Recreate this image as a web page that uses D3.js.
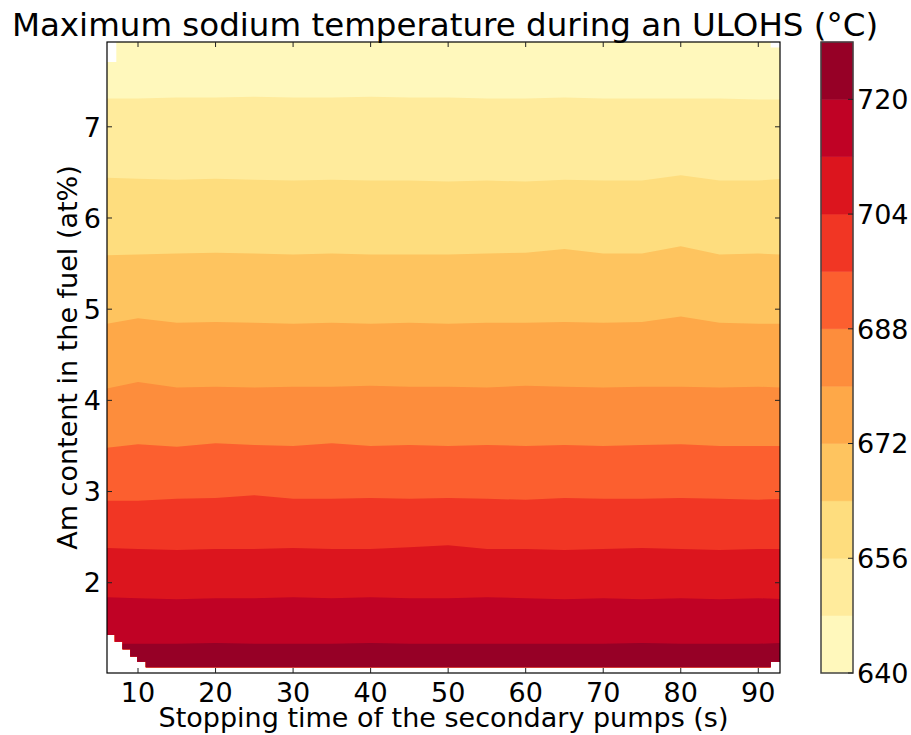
<!DOCTYPE html>
<html><head><meta charset="utf-8">
<script src="https://cdn.jsdelivr.net/npm/d3@7"></script>
<style>
body{margin:0;background:#fff}
svg{display:block}
text{font-family:"DejaVu Sans",sans-serif;fill:#000}
</style>
</head><body>
<svg id="chart" width="911" height="735"></svg>
<script>
// ---------- data ----------
const titleText = "Maximum sodium temperature during an ULOHS (°C)";
const xLabel = "Stopping time of the secondary pumps (s)";
const yLabel = "Am content in the fuel (at%)";

const levels = [640, 648, 656, 664, 672, 680, 688, 696, 704, 712, 720, 728];
const colorbarTicks = [640, 656, 672, 688, 704, 720];
const xTicks = [10, 20, 30, 40, 50, 60, 70, 80, 90];
const yTicks = [2, 3, 4, 5, 6, 7];
const xDomain = [6, 92.8];
const yDomain = [1.01, 7.93];

// stopping time samples (s) at which contour positions were read
const sampleX = [6, 10, 15, 20, 25, 30, 35, 40, 45, 50, 55, 60, 65, 70, 75, 80, 85, 90, 93];
// Am content (at%) where Tmax crosses each level
const c648 = [7.31,7.31,7.32,7.32,7.33,7.32,7.32,7.33,7.32,7.32,7.31,7.31,7.32,7.31,7.31,7.31,7.31,7.30,7.30];
const c656 = [6.44,6.43,6.42,6.43,6.42,6.41,6.42,6.41,6.41,6.40,6.41,6.40,6.42,6.41,6.41,6.47,6.41,6.41,6.43];
const c664 = [5.59,5.60,5.61,5.62,5.61,5.60,5.61,5.60,5.60,5.60,5.61,5.62,5.66,5.61,5.61,5.69,5.60,5.61,5.60];
const c672 = [4.84,4.90,4.85,4.86,4.85,4.84,4.85,4.84,4.85,4.84,4.85,4.85,4.86,4.85,4.86,4.92,4.85,4.84,4.84];
const c680 = [4.13,4.20,4.14,4.15,4.14,4.15,4.15,4.16,4.15,4.15,4.14,4.16,4.15,4.14,4.15,4.15,4.14,4.15,4.14];
const c688 = [3.48,3.52,3.49,3.53,3.51,3.50,3.53,3.50,3.51,3.50,3.51,3.50,3.51,3.50,3.51,3.52,3.50,3.50,3.50];
const c696 = [2.90,2.90,2.92,2.93,2.96,2.92,2.92,2.93,2.92,2.93,2.92,2.91,2.93,2.92,2.92,2.93,2.92,2.91,2.92];
const c704 = [2.38,2.37,2.36,2.37,2.37,2.38,2.37,2.37,2.39,2.41,2.37,2.37,2.36,2.37,2.38,2.37,2.36,2.37,2.37];
const c712 = [1.84,1.83,1.82,1.83,1.83,1.84,1.83,1.84,1.83,1.83,1.84,1.83,1.82,1.83,1.82,1.83,1.82,1.83,1.82];
const c720 = [1.33,1.33,1.33,1.34,1.33,1.33,1.33,1.34,1.33,1.33,1.33,1.33,1.33,1.33,1.34,1.33,1.33,1.33,1.34];
const contourLines = [c648, c656, c664, c672, c680, c688, c696, c704, c712, c720];

// extent of the computed grid (missing cells are blank)
const gridEdgeX      = [6,    7,    7.2,  8,    9,    9.9,  11,   91.6, 92.8];
const gridEdgeTop    = [7.71, 7.71, 7.93, 7.93, 7.93, 7.93, 7.93, 7.87, 7.87];
const gridEdgeBottom = [1.426,1.353,1.353,1.27, 1.19, 1.134,1.072,1.134,1.134];

const ylOrRd = ["#ffffcc","#ffeda0","#fed976","#feb24c","#fd8d3c","#fc4e2a","#e31a1c","#bd0026","#800026"];

// ---------- layout ----------
const svg = d3.select("#chart");
const plot = {left: 107, right: 780, top: 42, bottom: 673};
const cbar = {left: 821, right: 853, top: 42, bottom: 673};
const fs = 27;

const x = d3.scaleLinear().domain(xDomain).range([plot.left, plot.right]);
const y = d3.scaleLinear().domain(yDomain).range([plot.bottom, plot.top]);
const cmap = d3.scaleLinear().domain(ylOrRd.map((_, i) => i / (ylOrRd.length - 1))).range(ylOrRd).interpolate(d3.interpolateRgb);
const nBands = levels.length - 1;
const bandColor = i => cmap((i + 0.5) / nBands);

// clip to grid extent
const defs = svg.append("defs");
const clipArea = d3.area().curve(d3.curveStepAfter)
  .x((d, i) => x(gridEdgeX[i])).y0((d, i) => y(gridEdgeBottom[i])).y1((d, i) => y(gridEdgeTop[i]));
defs.append("clipPath").attr("id", "gridclip").append("path").attr("d", clipArea(gridEdgeX));

const g = svg.append("g").attr("clip-path", "url(#gridclip)");
for (let i = 0; i < nBands; i++) {
  const upper = i === 0 ? sampleX.map(() => yDomain[1]) : contourLines[i - 1];
  const area = d3.area()
    .x((d, k) => x(sampleX[k]))
    .y0(() => y(yDomain[0]))
    .y1((d, k) => y(upper[k]));
  g.append("path").attr("d", area(sampleX)).attr("fill", bandColor(i));
}

// frame
svg.append("rect").attr("x", plot.left).attr("y", plot.top)
  .attr("width", plot.right - plot.left).attr("height", plot.bottom - plot.top)
  .attr("fill", "none").attr("stroke", "#000").attr("stroke-width", 1.2);

// ticks (inward on all sides)
const tl = 5;
const tk = svg.append("g").attr("stroke", "#222").attr("stroke-width", 1);
xTicks.forEach(v => {
  tk.append("line").attr("x1", x(v)).attr("x2", x(v)).attr("y1", plot.bottom).attr("y2", plot.bottom - tl);
  tk.append("line").attr("x1", x(v)).attr("x2", x(v)).attr("y1", plot.top).attr("y2", plot.top + tl);
  svg.append("text").attr("x", x(v)).attr("y", plot.bottom + 29).attr("text-anchor", "middle")
    .attr("font-size", fs).text(v);
});
yTicks.forEach(v => {
  tk.append("line").attr("x1", plot.left).attr("x2", plot.left + tl).attr("y1", y(v)).attr("y2", y(v));
  tk.append("line").attr("x1", plot.right).attr("x2", plot.right - tl).attr("y1", y(v)).attr("y2", y(v));
  svg.append("text").attr("x", plot.left - 6).attr("y", y(v)).attr("dy", "0.36em").attr("text-anchor", "end")
    .attr("font-size", fs).text(v);
});

// labels
svg.append("text").attr("x", 445).attr("y", 35.5).attr("text-anchor", "middle")
  .attr("font-size", 32.5).text(titleText);
svg.append("text").attr("x", (plot.left + plot.right) / 2).attr("y", 727).attr("text-anchor", "middle")
  .attr("font-size", fs).text(xLabel);
svg.append("text").attr("transform", `translate(77,${(plot.top + plot.bottom) / 2}) rotate(-90)`)
  .attr("text-anchor", "middle").attr("font-size", fs).text(yLabel);

// colorbar
const cy = d3.scaleLinear().domain([levels[0], levels[levels.length - 1]]).range([cbar.bottom, cbar.top]);
for (let i = 0; i < nBands; i++) {
  svg.append("rect").attr("x", cbar.left).attr("width", cbar.right - cbar.left)
    .attr("y", cy(levels[i + 1])).attr("height", cy(levels[i]) - cy(levels[i + 1]))
    .attr("fill", bandColor(i)).attr("stroke", bandColor(i)).attr("stroke-width", 0.5);
}
svg.append("rect").attr("x", cbar.left).attr("y", cbar.top)
  .attr("width", cbar.right - cbar.left).attr("height", cbar.bottom - cbar.top)
  .attr("fill", "none").attr("stroke", "#444").attr("stroke-width", 1.5);
colorbarTicks.forEach(v => {
  svg.append("line").attr("x1", cbar.right).attr("x2", cbar.right - tl).attr("y1", cy(v)).attr("y2", cy(v))
    .attr("stroke", "#222").attr("stroke-width", 1);
  svg.append("text").attr("x", cbar.right + 4).attr("y", cy(v)).attr("dy", "0.36em")
    .attr("font-size", fs).text(v);
});
</script>
</body></html>
